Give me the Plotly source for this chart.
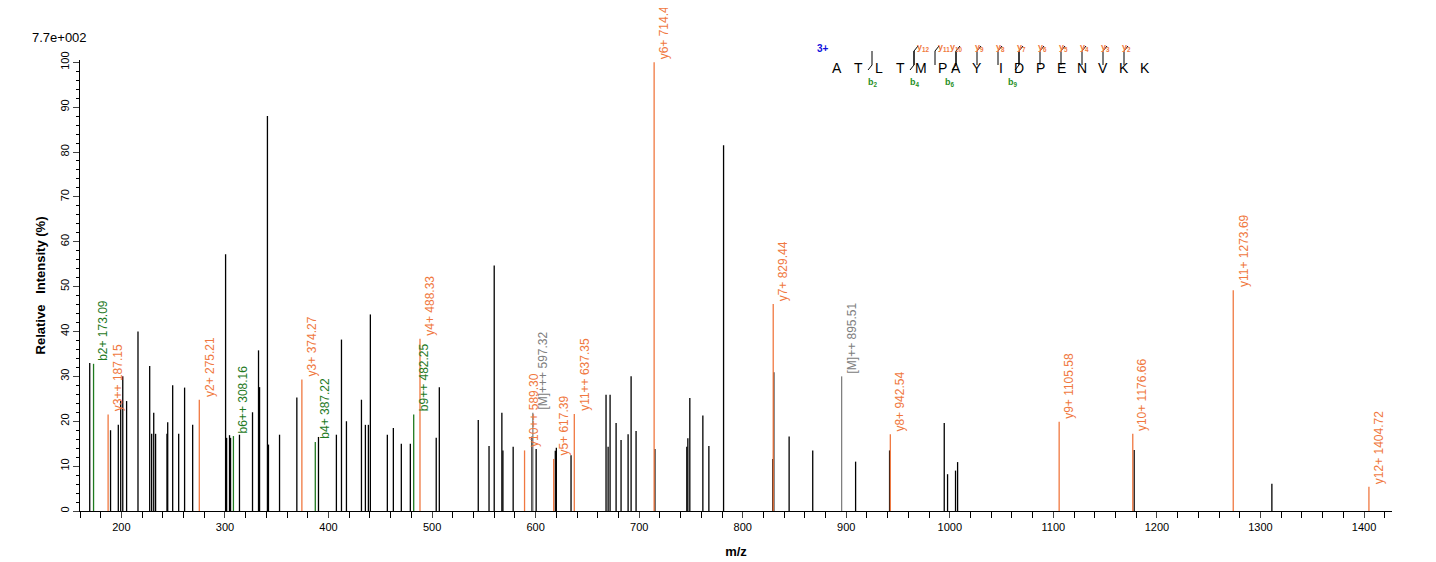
import plotly.graph_objects as go

# unannotated peaks (m/z, relative intensity %)
peak_mz = [169.4, 189.5, 197.0, 199.3, 201.3, 205.0, 216.0, 227.3, 229.2, 231.2, 233.0,
           244.0, 244.7, 249.5, 255.3, 261.0, 268.8, 300.6, 301.6, 304.4, 305.4, 314.0,
           326.6, 332.4, 333.4, 341.0, 342.0, 352.7, 369.4, 390.3, 407.6, 412.5, 417.3,
           431.8, 435.6, 438.5, 440.4, 456.8, 462.6, 470.3, 479.0, 504.0, 507.0, 544.6,
           555.0, 560.0, 567.4, 568.4, 578.3, 596.5, 600.5, 619.0, 620.0, 634.2, 668.0,
           670.0, 671.9, 677.7, 682.5, 689.3, 692.2, 697.0, 715.2, 746.0, 747.0, 748.9,
           761.5, 767.3, 781.5, 829.0, 830.0, 844.8, 867.6, 909.0, 941.8, 994.6, 997.8,
           1005.5, 1007.5, 1178.0, 1311.0]
peak_int = [33.0, 18.0, 19.2, 24.5, 30.0, 24.5, 40.0, 32.3, 17.2, 21.9, 17.2,
            17.2, 19.8, 28.0, 17.2, 27.5, 19.2, 57.2, 16.3, 16.9, 16.3, 17.0,
            22.0, 35.8, 27.6, 88.0, 14.8, 17.0, 25.3, 16.5, 17.0, 38.2, 20.0,
            24.8, 19.2, 19.2, 43.8, 17.0, 18.5, 15.0, 15.0, 16.3, 27.6, 20.3,
            14.5, 54.7, 21.9, 13.5, 14.3, 16.6, 13.8, 13.4, 14.1, 12.4, 25.9,
            14.3, 25.9, 19.6, 15.8, 17.1, 30.0, 17.8, 13.8, 14.3, 16.2, 25.2,
            21.3, 14.5, 81.5, 11.6, 30.9, 16.6, 13.5, 11.0, 13.5, 19.6, 8.2,
            9.0, 10.9, 13.6, 6.1]

# annotated fragment ions
ion_mz = [173.09, 187.15, 275.21, 308.16, 374.27, 387.22, 482.25, 488.33, 589.30, 597.32,
          617.39, 637.35, 714.44, 829.44, 895.51, 942.54, 1105.58, 1176.66, 1273.69, 1404.72]
ion_int = [32.8, 21.5, 24.8, 16.7, 29.3, 15.4, 21.5, 38.4, 13.5, 21.9,
           11.6, 21.6, 100.0, 46.1, 30.0, 17.1, 19.9, 17.2, 49.2, 5.4]
ion_label = ["b2+ 173.09", "y3++ 187.15", "y2+ 275.21", "b6++ 308.16", "y3+ 374.27",
             "b4+ 387.22", "b9++ 482.25", "y4+ 488.33", "y10++ 589.30", "[M]+++ 597.32",
             "y5+ 617.39", "y11++ 637.35", "y6+ 714.44", "y7+ 829.44", "[M]++ 895.51",
             "y8+ 942.54", "y9+ 1105.58", "y10+ 1176.66", "y11+ 1273.69", "y12+ 1404.72"]
ion_type = ["b", "y", "y", "b", "y", "b", "b", "y", "y", "M",
            "y", "y", "y", "y", "M", "y", "y", "y", "y", "y"]

sequence = list("ATLTMPAYIDPENVKK")
b_cuts = [2, 4, 6, 9]
y_cuts = [12, 11, 10, 9, 8, 7, 6, 5, 4, 3, 2]

colors = {"b": "#1f7a1f", "y": "#f07840", "M": "#808080"}

# plot area in pixels, used to place the sequence map in paper coords
PL, PR, PT, PB = 72, 1384, 52, 503
W, H = PR - PL, PB - PT


def px(x):
    return (x - PL) / W


def py(y):
    return (PB - y) / H


fig = go.Figure()

# black sticks
xs, ys = [], []
for m, v in zip(peak_mz, peak_int):
    xs += [m, m, None]
    ys += [0, v, None]
fig.add_trace(go.Scatter(x=xs, y=ys, mode="lines", line=dict(color="black", width=1.3),
                         hoverinfo="skip"))

# coloured sticks per ion type
for t, c in colors.items():
    xs, ys = [], []
    for m, v, tt in zip(ion_mz, ion_int, ion_type):
        if tt == t:
            xs += [m, m, None]
            ys += [0, v, None]
    fig.add_trace(go.Scatter(x=xs, y=ys, mode="lines", line=dict(color=c, width=1.3),
                             hoverinfo="skip"))

for m, v, lab, t in zip(ion_mz, ion_int, ion_label, ion_type):
    fig.add_annotation(x=m, y=v, text=lab, textangle=-90, showarrow=False,
                       xanchor="left", yanchor="bottom", xshift=1, yshift=1,
                       font=dict(size=12, color=colors[t], family="Liberation Sans"))

# peptide sequence map
letter_x0, letter_dx, letter_y = 829, 21, 50
for i, aa in enumerate(sequence):
    fig.add_annotation(x=px(letter_x0 + i * letter_dx), y=py(letter_y), xref="paper",
                       yref="paper", text=aa, showarrow=False,
                       font=dict(size=14, color="black", family="Liberation Sans"))
fig.add_annotation(x=px(815), y=py(33), xref="paper", yref="paper", text="<b>3+</b>",
                   showarrow=False, font=dict(size=10, color="#1010dd"))

line_style = dict(color="black", width=1)
for n in b_cuts:
    xc = letter_x0 + n * letter_dx - 7
    fig.add_shape(type="line", xref="paper", yref="paper", x0=px(xc), x1=px(xc),
                  y0=py(43), y1=py(57), line=line_style)
    fig.add_shape(type="line", xref="paper", yref="paper", x0=px(xc), x1=px(xc - 4),
                  y0=py(57), y1=py(62), line=line_style)
    fig.add_annotation(x=px(xc + 1), y=py(67), xref="paper", yref="paper",
                       text=f"<b>b<sub>{n}</sub></b>", showarrow=False,
                       font=dict(size=9, color="#1f8f1f"))
for n in y_cuts:
    xc = letter_x0 + (len(sequence) - n) * letter_dx - 7
    fig.add_shape(type="line", xref="paper", yref="paper", x0=px(xc), x1=px(xc),
                  y0=py(43), y1=py(57), line=line_style)
    fig.add_shape(type="line", xref="paper", yref="paper", x0=px(xc), x1=px(xc + 4),
                  y0=py(43), y1=py(38), line=line_style)
    fig.add_annotation(x=px(xc + 9), y=py(32), xref="paper", yref="paper",
                       text=f"<b>y<sub>{n}</sub></b>", showarrow=False,
                       font=dict(size=9, color="#f07840"))

fig.add_annotation(x=px(22), y=py(30), xref="paper", yref="paper", text="7.7e+002",
                   showarrow=False, xanchor="left", yanchor="middle",
                   font=dict(size=13, color="black"))

fig.update_layout(
    width=1436, height=562,
    margin=dict(l=PL, r=1436 - PR, t=PT, b=562 - PB),
    plot_bgcolor="white", paper_bgcolor="white",
    showlegend=False,
    font=dict(family="Liberation Sans", size=11, color="black"),
    xaxis=dict(range=[160, 1427], showgrid=False, zeroline=False, showline=True,
               linecolor="black", ticks="outside", ticklen=6, dtick=100, automargin=False,
               minor=dict(ticks="outside", ticklen=6, dtick=20, tickcolor="black"),
               title=dict(text="<b>m/z</b>", font=dict(size=13), standoff=14)),
    yaxis=dict(range=[0, 100.5], showgrid=False, zeroline=False, showline=True,
               linecolor="black", ticks="outside", ticklen=6, dtick=10, tickangle=-90,
               automargin=False,
               minor=dict(ticks="outside", ticklen=3, dtick=2, tickcolor="black"),
               title=dict(text="<b>Relative   Intensity (%)</b>", font=dict(size=13),
                          standoff=10)),
)

fig.write_html("out.html")
